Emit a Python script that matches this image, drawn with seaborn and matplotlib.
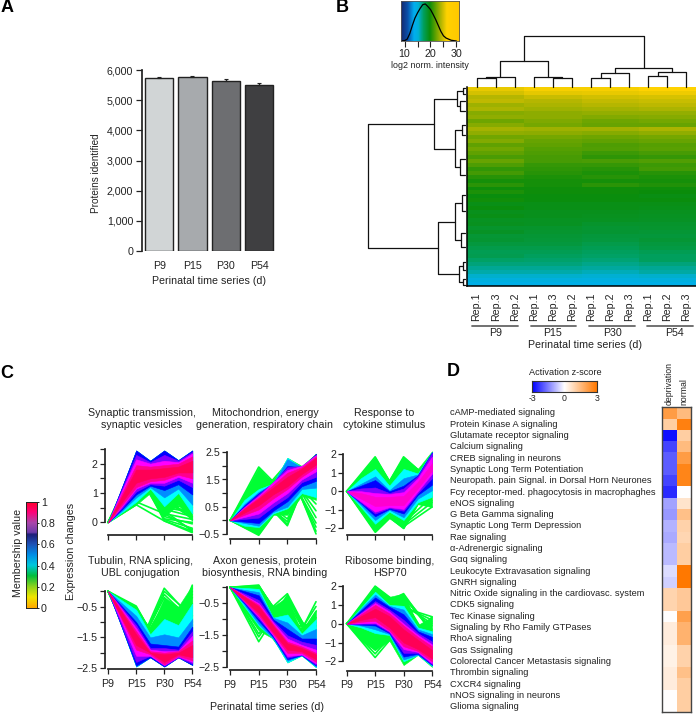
import matplotlib
matplotlib.use('Agg')
import matplotlib.pyplot as plt
from matplotlib.colors import LinearSegmentedColormap
from matplotlib.lines import Line2D
import numpy as np
import pandas as pd
import seaborn as sns

# panel A
stages = ['P9', 'P15', 'P30', 'P54']
proteins = [5740, 5760, 5650, 5510]
proteins_err = [20, 40, 45, 60]
bar_colors = ['#d1d5d6', '#a7aaad', '#6d6e71', '#3f3f41']

# panel B, log2 intensity per row for each stage
p9_rows = [25.3, 24.7, 23.8, 24.1, 23.2, 23.6, 22.6, 22.9, 22.0, 22.6, 23.4,
           22.9, 22.1, 22.5, 21.6, 22.1, 21.6, 21.1, 21.8, 21.2, 20.5,
           20.9, 20.2, 19.8, 20.3, 19.6, 20.0, 19.4, 19.7, 19.2, 19.4,
           19.0, 19.2, 18.8, 18.9, 18.6, 18.7, 18.3, 18.4, 18.0, 17.7,
           17.4, 17.5, 17.0, 16.6, 16.2, 15.8, 15.2, 14.6, 14.0]
p15_rows = [25.8, 25.2, 24.4, 23.8, 23.6, 23.2, 22.8, 22.8, 22.4, 22.2, 23.2,
            22.8, 22.2, 21.8, 21.6, 21.4, 21.2, 21.0, 21.0, 20.6, 20.4,
            20.2, 20.0, 19.8, 19.8, 19.6, 19.6, 19.4, 19.4, 19.2, 19.2,
            19.0, 19.0, 18.8, 18.8, 18.6, 18.5, 18.3, 18.2, 18.0, 17.7,
            17.4, 17.2, 16.9, 16.6, 16.2, 15.8, 15.2, 14.6, 14.0]
p30_rows = [25.8, 25.3, 24.6, 24.2, 23.8, 23.4, 23.0, 22.5, 22.0, 21.8, 23.3,
            22.6, 22.0, 21.6, 21.2, 21.3, 20.8, 20.4, 21.1, 20.6, 20.2,
            20.0, 20.2, 19.8, 20.3, 19.6, 19.6, 19.4, 19.4, 19.2, 19.2,
            19.0, 18.9, 18.8, 18.6, 18.4, 18.4, 18.1, 18.0, 17.7, 17.4,
            17.2, 17.0, 16.7, 16.4, 16.0, 15.6, 15.1, 14.5, 14.0]
p54_rows = [26.0, 25.5, 24.8, 24.4, 24.0, 23.6, 23.0, 22.6, 22.2, 21.8, 23.6,
            22.9, 22.2, 21.8, 21.4, 21.5, 21.0, 20.6, 21.3, 20.8, 20.9,
            20.2, 20.0, 19.8, 20.1, 19.6, 19.5, 19.3, 19.4, 19.2, 19.1,
            18.9, 18.8, 18.7, 18.6, 18.5, 18.3, 18.1, 18.3, 18.0, 17.9,
            17.4, 17.2, 17.2, 16.6, 16.2, 15.9, 15.2, 14.6, 14.0]
rep_labels = ['Rep.1', 'Rep.3', 'Rep.2', 'Rep.1', 'Rep.3', 'Rep.2',
              'Rep.1', 'Rep.2', 'Rep.3', 'Rep.1', 'Rep.2', 'Rep.3']
density_x = [8.8, 10, 11, 12, 13, 14, 15, 16, 17, 18, 19, 20, 21, 22, 23, 24, 25, 26, 28, 30]
density_y = [0.0, 0.01, 0.05, 0.2, 0.42, 0.62, 0.76, 0.88, 0.98, 1.0, 0.93, 0.85, 0.72,
             0.58, 0.42, 0.26, 0.14, 0.08, 0.02, 0.0]
# (height, left, right), leaves are column numbers
col_tree = (152,
            (78, (30, (27, 0, 1), 2), (30, 3, (27, 4, 5))),
            (57, (42, (28, 6, 7), 8), (45, (32, 9, 10), 11)))
# leaves are heights down the heatmap
row_tree = (290,
            (94,
             (24, (6, 1, 7), (14, 14, 24)),
             (30, (8, 38, 48), (14, 72, 88))),
            (82,
             (30, (8, 108, 124), (12, 146, 160)),
             (18, (5, 175, 183), (6, 192, 198))))

# panel C, each band: membership, upper edge, lower edge (P9, mid, P15, mid, P30, mid, P54)
syn_bands = [
    (.27, [0, 1.2, 2.45, 2.1, 2.45, 2.12, 2.45], [0, .3, .6, 1.0, .2, .6, .05]),
    (.40, [0, 1.2, 2.45, 2.1, 2.45, 2.12, 2.45], [0, .35, .7, 1.15, .55, 1.0, .3]),
    (.50, [0, 1.2, 2.45, 2.1, 2.45, 2.12, 2.45], [0, .4, .85, 1.2, .85, 1.15, .6]),
    (.60, [0, 1.22, 2.45, 2.1, 2.45, 2.12, 2.45], [0, .45, .95, 1.25, 1.1, 1.3, .95]),
    (.70, [0, 1.15, 2.3, 2.05, 2.3, 2.1, 2.4], [0, .5, 1.05, 1.3, 1.25, 1.45, 1.2]),
    (.80, [0, 1.1, 2.15, 2.0, 2.1, 2.05, 2.35], [0, .55, 1.15, 1.35, 1.35, 1.55, 1.35]),
    (.90, [0, 1.0, 1.95, 1.9, 1.95, 2.0, 2.25], [0, .6, 1.2, 1.4, 1.45, 1.62, 1.5]),
    (.97, [0, .9, 1.8, 1.8, 1.85, 1.9, 2.1], [0, .7, 1.35, 1.5, 1.55, 1.7, 1.7])]
mito_bands = [
    (.27, [0, .98, 1.96, 1.35, 2.3, 2.0, 2.45], [0, -.27, -.5, .2, .2, .9, .75]),
    (.40, [0, .75, 1.15, 1.35, 2.3, 1.95, 2.4], [0, -.2, -.25, .25, .44, 1.0, .85]),
    (.50, [0, .6, 1.05, 1.35, 2.25, 1.95, 2.4], [0, -.1, -.2, .3, .5, 1.15, 1.2]),
    (.60, [0, .55, 1.0, 1.35, 2.0, 1.95, 2.45], [0, -.05, -.1, .35, .7, 1.25, 1.45]),
    (.70, [0, .5, .95, 1.4, 1.95, 2.0, 2.4], [0, .05, .1, .5, .85, 1.4, 1.6]),
    (.80, [0, .48, .9, 1.4, 1.85, 2.0, 2.4], [0, .12, .25, .65, 1.0, 1.5, 1.8]),
    (.90, [0, .45, .85, 1.3, 1.75, 1.95, 2.35], [0, .2, .4, .8, 1.15, 1.6, 1.95]),
    (.97, [0, .42, .8, 1.2, 1.6, 1.9, 2.3], [0, .28, .55, .95, 1.25, 1.7, 2.05])]
cyto_bands = [
    (.27, [0, .92, 1.85, .55, 1.85, 1.2, 2.15], [0, -1.1, -2.2, -1.45, -2.0, -.7, -.85]),
    (.40, [0, .7, 1.2, .3, 1.2, .95, 2.1], [0, -.85, -1.75, -1.1, -1.55, -.6, -.3]),
    (.50, [0, .4, .8, .05, .7, .9, 2.1], [0, -.75, -1.55, -1.0, -1.4, -.4, .05]),
    (.60, [0, .3, .6, 0, .3, .85, 2.1], [0, -.65, -1.35, -.95, -1.2, -.2, .35]),
    (.70, [0, .15, .2, -.1, .15, .8, 2.05], [0, -.6, -1.2, -.9, -1.05, -.1, .7]),
    (.80, [0, 0, -.1, -.15, -.05, .7, 1.85], [0, -.55, -1.1, -.85, -.95, 0, .95]),
    (.84, [0, -.1, -.3, -.3, -.25, .5, 1.5], [0, -.4, -.8, -.75, -.75, .15, 1.1])]
tub_bands = [
    (.27, [0, -.24, -.48, -1.26, -.2, -.5, .2], [0, -1.2, -2.45, -2.15, -2.45, -2.15, -2.4]),
    (.40, [0, -.3, -.6, -1.4, -.9, -1.1, -.4], [0, -1.2, -2.45, -2.15, -2.45, -2.15, -2.4]),
    (.50, [0, -.4, -.8, -1.5, -1.4, -1.5, -.9], [0, -1.2, -2.45, -2.15, -2.45, -2.15, -2.4]),
    (.60, [0, -.5, -1.0, -1.7, -1.75, -1.8, -1.15], [0, -1.2, -2.42, -2.15, -2.45, -2.15, -2.4]),
    (.70, [0, -.55, -1.1, -1.85, -1.85, -1.9, -1.3], [0, -1.15, -2.3, -2.1, -2.42, -2.15, -2.35]),
    (.80, [0, -.6, -1.2, -1.9, -1.95, -1.95, -1.45], [0, -1.05, -2.1, -2.1, -2.4, -2.12, -2.3]),
    (.90, [0, -.65, -1.3, -1.95, -2.0, -1.95, -1.6], [0, -.95, -1.9, -2.05, -2.38, -2.1, -2.25]),
    (.97, [0, -.7, -1.4, -2.0, -2.05, -2.0, -1.75], [0, -.9, -1.75, -2.0, -2.3, -2.05, -2.15])]
axon_bands = [
    (.27, [0, .03, .07, -.6, -.3, -1.45, -.7], [0, -.7, -1.35, -1.6, -2.35, -2.13, -2.5]),
    (.40, [0, -.02, -.05, -.95, -.85, -1.45, -1.0], [0, -.6, -1.2, -1.6, -2.35, -2.13, -2.5]),
    (.50, [0, -.08, -.15, -.95, -1.1, -1.5, -1.3], [0, -.55, -1.15, -1.6, -2.3, -2.12, -2.48]),
    (.60, [0, -.12, -.25, -1.0, -1.3, -1.6, -1.6], [0, -.5, -1.05, -1.55, -2.25, -2.12, -2.45]),
    (.70, [0, -.2, -.4, -1.05, -1.5, -1.7, -1.8], [0, -.47, -.98, -1.5, -2.2, -2.1, -2.42]),
    (.80, [0, -.25, -.5, -1.1, -1.6, -1.8, -1.95], [0, -.45, -.92, -1.5, -2.15, -2.1, -2.38]),
    (.90, [0, -.27, -.55, -1.15, -1.7, -1.85, -2.05], [0, -.43, -.88, -1.45, -2.05, -2.05, -2.33]),
    (.97, [0, -.3, -.6, -1.2, -1.75, -1.9, -2.1], [0, -.4, -.8, -1.4, -1.95, -2.0, -2.25])]
ribo_bands = [
    (.27, [0, 1.0, 2.0, 1.43, 1.6, -.07, .37], [0, -.9, -1.4, -.9, -2.2, -1.66, -2.3]),
    (.40, [0, .85, 1.7, 1.0, .95, -.2, -.4], [0, -.2, -.5, -.6, -2.0, -1.66, -2.25]),
    (.50, [0, .8, 1.55, .95, .75, -.3, -.55], [0, -.1, -.3, -.55, -1.9, -1.65, -2.2]),
    (.60, [0, .7, 1.4, .9, .5, -.4, -.7], [0, -.05, -.1, -.5, -1.75, -1.6, -2.2]),
    (.70, [0, .6, 1.2, .75, .2, -.5, -.95], [0, 0, 0, -.45, -1.55, -1.55, -2.15]),
    (.80, [0, .55, 1.1, .65, 0, -.6, -1.1], [0, .02, .05, -.4, -1.35, -1.5, -2.1]),
    (.90, [0, .5, 1.0, .55, -.1, -.7, -1.2], [0, .1, .15, -.35, -1.2, -1.45, -2.0]),
    (.97, [0, .4, .8, .4, -.3, -.85, -1.4], [0, .2, .35, -.2, -1.0, -1.35, -1.85])]

# low membership profiles (P15, P30, P54)
syn_green = [(.6, .05, -.35), (1.9, .05, -.3), (2.0, .1, -.2), (1.8, .2, -.05), (1.9, .3, .1),
             (1.7, .45, .2), (2.1, .4, -.3), (1.9, .5, .35), (1.8, .6, .5), (1.7, .75, .15),
             (1.8, .9, .1), (1.75, .12, 0), (1.8, .65, .3), (.7, .3, -.25)]
mito_green = [(1.96, .9, 1.6), (1.8, 1.0, 2.0), (1.7, 1.1, 1.7), (-.55, .9, 1.6), (-.5, 1.0, 1.5),
              (.9, -.2, 2.4), (1.0, -.15, 2.35), (.8, -.05, 2.2), (.9, .05, 2.2),
              (.9, 2.1, -.5), (.85, 2.0, -.4), (.9, 1.9, -.25), (1.0, 1.8, -.1),
              (.9, 1.9, .1), (1.0, 1.8, .35), (.95, 1.7, .6)]
cyto_green = [(1.85, -.75, .9), (1.7, -.6, 1.0), (1.6, -.55, .7), (1.45, -.5, 1.1),
              (-.8, 1.85, .5), (-.7, 1.75, .2), (-.9, 1.6, .4), (-1.0, 1.45, .9),
              (-2.2, -.7, .4), (-2.1, -.5, .6), (-2.0, -.6, .8), (-.8, -2.0, .6),
              (-.9, -1.9, -.85), (-1.0, -1.8, -.6), (-.7, -1.7, -.3), (-1.9, -.9, -.5)]
tub_green = [(-.48, -2.1, .2), (-.55, -2.0, .1), (-.6, -1.9, 0), (-.65, -1.8, -.2),
             (-2.0, .1, -.9), (-2.1, 0, -.8), (-2.05, -.1, -1.0), (-2.0, -.2, -1.1),
             (-2.0, -.4, -1.2), (-1.9, -.55, -1.0), (-1.9, -.7, -.8), (-2.0, -.6, -1.1),
             (-.7, -1.7, -.1), (-.8, -1.8, -.4)]
axon_green = [(.07, -1.4, -1.2), (.05, -1.3, -1.1), (0, -1.2, -1.2), (-1.0, -2.2, -.45),
              (-.9, -2.1, -.75), (-.9, -2.0, -.95), (-1.1, -2.0, -.6), (-1.7, -.3, -2.1),
              (-1.55, -.25, -2.0), (-1.45, -.45, -2.0), (-1.3, -.6, -2.1), (-1.2, -.8, -2.2),
              (-1.0, -.2, -1.9), (-.9, -.4, -1.7)]
ribo_green = [(2.0, .85, .37), (1.85, .9, .2), (1.7, 1.0, 0), (.85, 1.6, -.5), (.95, 1.5, -.3),
              (1.0, 1.4, -.4), (1.1, 1.3, -1.2), (.3, -1.6, .37), (.2, -1.5, .3), (.2, -1.5, .1),
              (.1, -1.5, -.1), (-1.8, 0, -1.0), (-1.6, .1, -1.2), (-1.4, .2, -1.5),
              (-1.2, .4, -1.4), (-1.0, 0, -1.9), (-.9, .3, -2.0), (.9, 1.55, -1.9), (1.0, 1.5, -2.1)]

# panel D
pathways = ['cAMP-mediated signaling', 'Protein Kinase A signaling', 'Glutamate receptor signaling',
            'Calcium signaling', 'CREB signaling in neurons', 'Synaptic Long Term Potentiation',
            'Neuropath. pain Signal. in Dorsal Horn Neurones', 'Fcy receptor-med. phagocytosis in macrophaghes',
            'eNOS signaling', 'G Beta Gamma signaling', 'Synaptic Long Term Depression', 'Rae signaling',
            'α-Adrenergic signaling', 'Gαq signaling', 'Leukocyte Extravasation signaling', 'GNRH signaling',
            'Nitric Oxide signaling in the cardiovasc. system', 'CDK5 signaling', 'Tec Kinase signaling',
            'Signaling by Rho Family GTPases', 'RhoA signaling', 'Gαs Ssignaling',
            'Colorectal Cancer Metastasis signaling', 'Thrombin signaling', 'CXCR4 signaling',
            'nNOS signaling in neurons', 'Glioma signaling']
deprivation = [2.2, 1.1, -2.8, -2.2, -1.9, -1.9, -2.2, -2.5, -1.1, -1.2, -.9, -1.0, -.8, -.8,
               -.4, -.55, .95, .95, 0, .4, .4, .3, .3, .4, .4, 0, 0]
normal = [1.5, 2.8, 1.1, 1.5, 2.2, 2.7, 2.7, 0, .6, 1.4, 1.0, .9, 1.1, 1.1,
          3, 3, 1.2, 1.2, 2.1, 1.7, 1.7, 1.0, 1.0, 1.4, 1.1, 1.1, 1.1]

W, H = 696, 714
sns.set_theme(style='white')
plt.rcParams['font.family'] = ['Liberation Sans', 'DejaVu Sans']
plt.rcParams['text.color'] = '#222222'
plt.rcParams['axes.labelcolor'] = '#222222'
plt.rcParams['xtick.color'] = '#222222'
plt.rcParams['ytick.color'] = '#222222'
fs = 7.7

fig = plt.figure(figsize=(W / 100, H / 100), dpi=100, facecolor='white')


def px_axes(x0, y0, x1, y1):
    return fig.add_axes([x0 / W, 1 - y1 / H, (x1 - x0) / W, (y1 - y0) / H])


def px_text(x, y, s, **kw):
    kw.setdefault('fontsize', fs)
    kw.setdefault('ha', 'center')
    kw.setdefault('va', 'center')
    fig.text(x / W, 1 - y / H, s, **kw)


def draw_tree(ax, node, vertical):
    # returns (position, height) of a node after drawing its link
    if not isinstance(node, tuple):
        return node + .5 if vertical else node, 0
    pa, ha = draw_tree(ax, node[1], vertical)
    pb, hb = draw_tree(ax, node[2], vertical)
    h = node[0]
    if vertical:
        ax.plot([pa, pa, pb, pb], [ha, h, h, hb], color='#111111', lw=.9, clip_on=False)
    else:
        ax.plot([ha, h, h, hb], [pa, pa, pb, pb], color='#111111', lw=.9, clip_on=False)
    return (pa + pb) / 2, h


for x, y, s in [(7, 8, 'A'), (342, 8, 'B'), (7, 373, 'C'), (453, 372, 'D')]:
    px_text(x, y, s, fontsize=13, fontweight='bold', color='black')

# A
ax = px_axes(141.7, 70, 275, 251)
bar_df = pd.DataFrame({'stage': stages, 'proteins': proteins})
sns.barplot(data=bar_df, x='stage', y='proteins', hue='stage', palette=bar_colors, legend=False,
            width=.85, saturation=1, edgecolor='#222222', linewidth=1, ax=ax)
ax.errorbar(range(4), proteins, yerr=[[0] * 4, proteins_err], fmt='none', ecolor='#222222',
            elinewidth=1, capsize=1.2, capthick=.8)
ax.set_xlim(-.524, 3.48)
ax.set_ylim(0, 6000)
ax.set_yticks(range(0, 6001, 1000))
ax.set_yticklabels([f'{v:,}' for v in range(0, 6001, 1000)])
ax.set_xlabel('')
ax.set_ylabel('')
ax.tick_params(axis='y', length=4, width=.9, labelsize=fs, pad=2, left=True)
ax.tick_params(axis='x', length=0, labelsize=fs, pad=7)
sns.despine(ax=ax, bottom=True)
ax.spines['left'].set_color('#222222')
px_text(209, 281.5, 'Perinatal time series (d)')
px_text(95.7, 173, 'Proteins identified', rotation=90, fontsize=7.2)

# B
hm_cmap = LinearSegmentedColormap.from_list('intensity', [
    (0, '#14286e'), (.11, '#0a50aa'), (.22, '#00aeef'), (.29, '#00b0d8'), (.38, '#00a060'),
    (.49, '#0a8c0a'), (.6, '#6ea500'), (.69, '#bcb800'), (.78, '#ffd200'), (1, '#ffc800')])
ax = px_axes(467, 87, 696, 286)
matrix = pd.DataFrame({c: vals for c, vals in enumerate(
    [p9_rows] * 3 + [p15_rows] * 3 + [p30_rows] * 3 + [p54_rows] * 3)})
sns.heatmap(matrix, cmap=hm_cmap, vmin=8.5, vmax=31, cbar=False, xticklabels=rep_labels,
            yticklabels=False, ax=ax)
ax.tick_params(axis='x', length=0, labelsize=fs, labelrotation=90, pad=5)
for s in ['left', 'bottom']:
    ax.spines[s].set_visible(True)
    ax.spines[s].set_linewidth(1.1)
    ax.spines[s].set_color('black')
ax = px_axes(467, 33.7, 696, 87)
draw_tree(ax, col_tree, True)
ax.set_xlim(0, 12)
ax.set_ylim(0, 160)
ax.axis('off')
ax = px_axes(368.3, 87, 465, 286)
draw_tree(ax, row_tree, False)
ax.set_xlim(290, 0)
ax.set_ylim(199, 0)
ax.axis('off')
for x0, x1, xc, s in [(472, 518, 496, 'P9'), (531, 576, 552, 'P15'), (589, 635, 612, 'P30'), (647, 693, 675, 'P54')]:
    fig.add_artist(Line2D([x0 / W, x1 / W], [1 - 326 / H] * 2, color='#666666', lw=1.3))
    px_text(xc, 333.5, s)
px_text(585, 344.5, 'Perinatal time series (d)')

ax = px_axes(400.7, 1, 459, 41)
ax.imshow(np.linspace(8.5, 31, 200)[None, :], cmap=hm_cmap, vmin=8.5, vmax=31, aspect='auto',
          extent=[8.5, 31, 0, 1.08])
sns.lineplot(x=density_x, y=density_y, color='black', lw=.9, ax=ax)
ax.set_xticks([10, 15, 20, 25, 30])
ax.set_xticklabels(['10', '', '20', '', '30'])
ax.set_yticks([])
ax.tick_params(axis='x', length=4, width=.8, labelsize=fs, pad=2, bottom=True)
ax.set_xlim(8.5, 31)
ax.set_ylim(0, 1.08)
for s in ax.spines.values():
    s.set_linewidth(.6)
    s.set_color('#555555')
px_text(430, 65.5, 'log2 norm. intensity', fontsize=6.4)

# C
band_cmap = LinearSegmentedColormap.from_list('bands', [
    (0, '#00ff33'), (.27, '#00ff33'), (.4, '#00ffff'), (.5, '#0090ff'), (.6, '#0000ff'),
    (.7, '#8000ff'), (.8, '#ff00ff'), (.9, '#ff0090'), (1, '#ff0040')])
band_x = [0, .5, 1, 1.5, 2, 2.5, 3]
time_x = [0, 1, 2, 3]
panels = [
    (syn_bands, syn_green, 104.7, 192.3, 449, 535, 522.3, 29.5,
     [0, .5, 1, 1.5, 2, 2.5], [0, 1, 2], False),
    (mito_bands, mito_green, 226.7, 316, 452, 539.3, 520.3, 27.2,
     [-.5, 0, .5, 1, 1.5, 2, 2.5], [-.5, .5, 1.5, 2.5], False),
    (cyto_bands, cyto_green, 343.3, 432, 454, 535, 491, 18.7,
     [-2, -1, 0, 1, 2], [-2, -1, 0, 1, 2], False),
    (tub_bands, tub_green, 104.7, 192.3, 591.3, 669, 591.3, 30.7,
     [-2.5, -2, -1.5, -1, -.5, 0], [-2.5, -1.5, -.5], True),
    (axon_bands, axon_green, 226.7, 316, 587.3, 670, 587.3, 32,
     [-2.5, -2, -1.5, -1, -.5, 0], [-2.5, -1.5, -.5], True),
    (ribo_bands, ribo_green, 343.3, 432, 586, 670.7, 623.7, 18.8,
     [-2, -1, 0, 1, 2], [-2, -1, 0, 1, 2], True)]
for bands, green, xl, xr, yt, yb, y0, unit, ticks, labelled, show_x in panels:
    ax = px_axes(xl, yt, xr, yb)
    step = (xr - xl - 3.4) / 3
    for p15, p30, p54 in green:
        sns.lineplot(x=time_x, y=[0, p15, p30, p54], color='#00ff33', lw=1.2, ax=ax, clip_on=False)
    for m, hi, lo in bands:
        ax.fill_between(band_x, lo, hi, color=band_cmap(m), lw=.4, clip_on=False, zorder=3)
    ax.set_xlim(-3.4 / step, 3)
    ax.set_ylim((y0 - yb) / unit, (y0 - yt) / unit)
    ax.set_yticks(ticks)
    ax.set_yticklabels([str(t).replace('-', '\u2212') if t in labelled else '' for t in ticks])
    ax.set_xticks(time_x)
    ax.set_xticklabels(stages if show_x else [])
    ax.set_xlabel('')
    ax.set_ylabel('')
    ax.tick_params(axis='y', left=True, length=3.5, width=.9, labelsize=fs, pad=1.5)
    ax.tick_params(axis='x', bottom=True, length=3.5, width=.9, labelsize=fs, pad=3.5)
    sns.despine(ax=ax)
    ax.spines['left'].set_bounds(ticks[0], ticks[-1])
    ax.spines['bottom'].set_bounds(0, 3)
    ax.spines['left'].set_color('#222222')
    ax.spines['bottom'].set_color('#222222')
    ax.patch.set_alpha(0)

for x, y, s in [(142, 419, 'Synaptic transmission,\nsynaptic vesicles'),
                (265, 419, 'Mitochondrion, energy\ngeneration, respiratory chain'),
                (384, 419, 'Response to\ncytokine stimulus'),
                (140.7, 567, 'Tubulin, RNA splicing,\nUBL conjugation'),
                (265, 567, 'Axon genesis, protein\nbiosynthesis, RNA binding'),
                (390, 567, 'Ribosome binding,\nHSP70')]:
    px_text(x, y, s, linespacing=1.15)
px_text(267, 706.5, 'Perinatal time series (d)')
px_text(71, 551, 'Expression changes', rotation=90)
px_text(18, 553, 'Membership value', rotation=90)

member_cmap = LinearSegmentedColormap.from_list('membership', [
    (0, '#ffaa00'), (.1, '#f0e600'), (.2, '#8cd21e'), (.3, '#00be3c'), (.4, '#00c8dc'),
    (.5, '#008ce6'), (.6, '#1e50b4'), (.69, '#1e1e78'), (.71, '#6e3caa'), (.8, '#aa46aa'),
    (.9, '#ff0078'), (1, '#ff0028')])
ax = px_axes(26.3, 502, 36.7, 608)
ax.imshow(np.linspace(1, 0, 200)[:, None], cmap=member_cmap, vmin=0, vmax=1, aspect='auto',
          extent=[0, 1, 0, 1])
ax.set_xticks([])
ax.yaxis.tick_right()
ax.set_yticks([0, .2, .4, .6, .8, 1])
ax.set_yticklabels(['0', '0.2', '0.4', '0.6', '0.8', '1'])
ax.tick_params(axis='y', right=True, length=1.5, width=.7, labelsize=fs, pad=1.5)
for s in ax.spines.values():
    s.set_linewidth(.7)
    s.set_color('#222222')

# D
z_cmap = LinearSegmentedColormap.from_list('zscore', ['#0000ff', '#ffffff', '#ff7800'])
ax = px_axes(662.3, 407.3, 690.7, 712.3)
z_df = pd.DataFrame({'deprivation': deprivation, 'normal': normal}, index=pathways)
sns.heatmap(z_df, cmap=z_cmap, vmin=-3, vmax=3, cbar=False, xticklabels=True, yticklabels=True, ax=ax)
ax.xaxis.tick_top()
ax.tick_params(axis='x', length=0, labelsize=6.3, labelrotation=90, pad=2)
ax.tick_params(axis='y', length=0, labelsize=6.7, labelrotation=0, pad=153)
for t in ax.get_yticklabels():
    t.set_ha('left')
ax.set_ylabel('')
for s in ax.spines.values():
    s.set_visible(True)
    s.set_linewidth(1)
    s.set_color('#444444')

ax = px_axes(532.3, 381.3, 596.7, 391.7)
ax.imshow(np.linspace(-3, 3, 200)[None, :], cmap=z_cmap, vmin=-3, vmax=3, aspect='auto',
          extent=[-3, 3, 0, 1])
ax.set_yticks([])
ax.set_xticks([-3, 0, 3])
ax.set_xticklabels(['-3', '0', '3'])
ax.tick_params(axis='x', length=0, labelsize=6.3, pad=2)
for s in ax.spines.values():
    s.set_linewidth(.8)
    s.set_color('#333333')
px_text(565, 372.7, 'Activation z-score', fontsize=6.6)

fig.savefig('out.png', dpi=100)
